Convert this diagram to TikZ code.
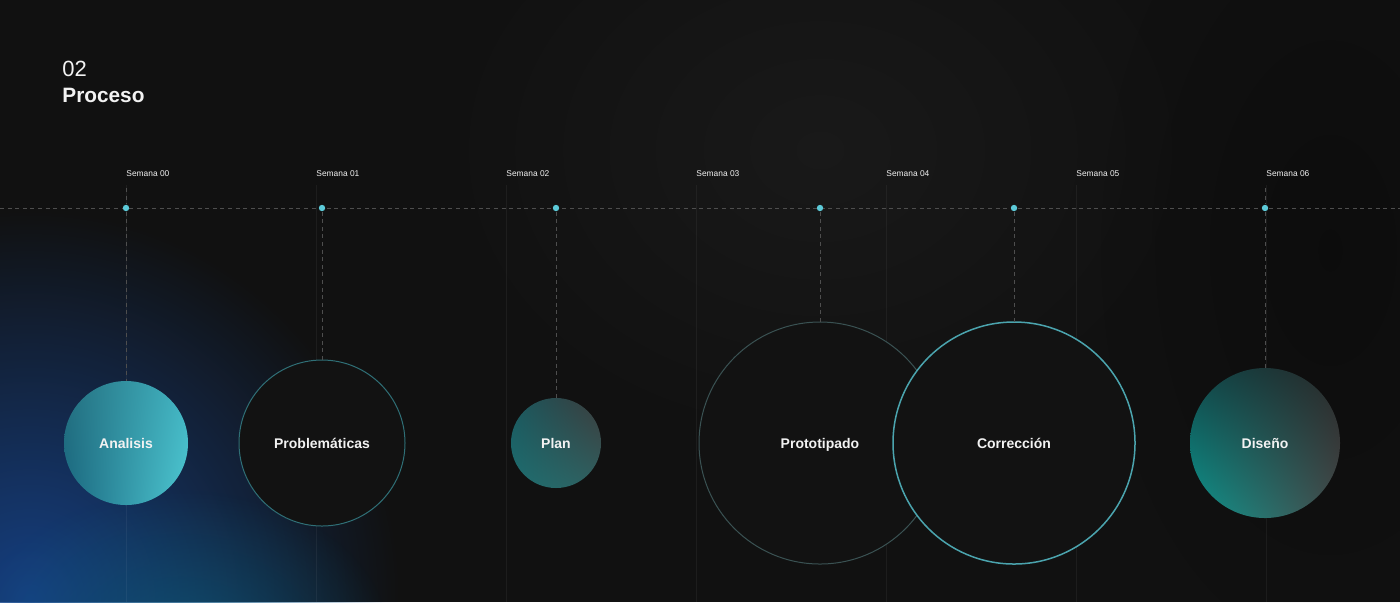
\documentclass[tikz,border=0pt]{standalone}
\usepackage{fontspec}
\setmainfont{Liberation Sans}
\usetikzlibrary{fadings,shadings}
\tikzfading[name=glowfade, inner color=transparent!0, outer color=transparent!100]
\definecolor{bg}{HTML}{111111}
\definecolor{glowblue}{HTML}{16458F}
\definecolor{glowteal}{HTML}{0E5A78}
\definecolor{dotc}{HTML}{5CCAD8}
\definecolor{dashc}{HTML}{4E4E4E}
\definecolor{txt}{HTML}{F2F2F2}
\definecolor{probc}{HTML}{2F6F76}
\definecolor{protoc}{HTML}{3A5253}
\definecolor{corrc}{HTML}{4BA4AE}
\definecolor{hollow}{HTML}{121212}
\definecolor{anaUL}{RGB}{36,112,128}
\definecolor{anaUR}{RGB}{66,180,194}
\definecolor{anaLL}{RGB}{26,104,128}
\definecolor{anaLR}{RGB}{78,200,210}
\definecolor{plaUL}{RGB}{26,88,94}
\definecolor{plaUR}{RGB}{60,60,60}
\definecolor{plaLL}{RGB}{30,110,112}
\definecolor{plaLR}{RGB}{48,96,96}
\definecolor{disUL}{RGB}{16,70,72}
\definecolor{disUR}{RGB}{40,40,40}
\definecolor{disLL}{RGB}{14,150,142}
\definecolor{disLR}{RGB}{70,74,74}
\tikzset{
  dotnode/.style={circle, fill=dotc, inner sep=0pt, minimum size=3.2pt},
  dashline/.style={draw=dashc, line width=0.5pt, dash pattern=on 2pt off 1.8pt},
  gridline/.style={draw=white, draw opacity=0.05, line width=0.5pt},
  weeklabel/.style={anchor=base west, text=txt, font=\fontsize{4.2}{5}\selectfont, inner sep=0pt},
  circlabel/.style={anchor=base, inner sep=0pt, yshift=-2.55pt, text=txt, font=\bfseries\fontsize{7}{9}\selectfont},
  bubble/.style={circle, inner sep=0pt, outer sep=0pt},
}
\begin{document}
\begin{tikzpicture}[x=0.5pt,y=-0.5pt]
\fill[bg] (0,0) rectangle (1400,602);
\useasboundingbox (0,0) rectangle (1400,602);
\begin{scope}
\clip (0,0) rectangle (1400,602);
% subtle background silhouettes
\fill[white, opacity=0.035, path fading=glowfade] (820,150) ellipse (420 and 330);
\fill[black, opacity=0.25, path fading=glowfade] (1330,250) ellipse (230 and 400);
% glows bottom-left
\fill[glowblue, opacity=0.9, path fading=glowfade] (30,600) ellipse (370 and 390);
\fill[glowteal, opacity=0.7, path fading=glowfade] (180,640) ellipse (210 and 150);
\end{scope}

% grid lines
\foreach \i in {0,...,6}{
  \coordinate (gt\i) at ({126+190*\i},185);
  \coordinate (gb\i) at ({126+190*\i},602);
  \draw[gridline] (gt\i) -- (gb\i);
}

% timeline
\coordinate (tl) at (0,208);
\coordinate (tr) at (1400,208);
\draw[dashline] (tl) -- (tr);

% week labels
\foreach \i in {0,...,6}{
  \node[weeklabel] (w\i) at ({126+190*\i},176.5) {Semana 0\i};
}

% title
\node[anchor=base west, inner sep=0pt, text=txt, font=\fontsize{11}{13}\selectfont] (num) at (62,76.5) {02};
\node[anchor=base west, inner sep=0pt, text=txt, font=\bfseries\fontsize{10.4}{12}\selectfont] (title) at (62,102.5) {Proceso};

% circles
\node[bubble, minimum size=62pt, upper left=anaUL, upper right=anaUR, lower left=anaLL, lower right=anaLR] (ana) at (126,443) {};
\node[bubble, minimum size=83pt, draw=probc, fill=hollow, line width=0.5pt] (prob) at (322,443) {};
\node[bubble, minimum size=45pt, upper left=plaUL, upper right=plaUR, lower left=plaLL, lower right=plaLR] (plan) at (556,443) {};
\node[bubble, minimum size=121pt, draw=protoc, fill=hollow, line width=0.5pt] (proto) at (820,443) {};
\node[bubble, minimum size=121pt, draw=corrc, fill=hollow, line width=0.75pt] (corr) at (1014,443) {};
\node[bubble, minimum size=75pt, upper left=disUL, upper right=disUR, lower left=disLL, lower right=disLR] (dis) at (1265,443) {};

% labels
\node[circlabel] (lana) at (ana.center) {Analisis};
\node[circlabel] (lprob) at (prob.center) {Problemáticas};
\node[circlabel] (lplan) at (plan.center) {Plan};
\node[circlabel] (lproto) at (proto.center) {Prototipado};
\node[circlabel] (lcorr) at (corr.center) {Corrección};
\node[circlabel] (ldis) at (dis.center) {Diseño};

% dots and connectors
\coordinate (a0) at (126,188);
\coordinate (a6) at (1265,188);
\node[dotnode] (d0) at (126,208) {};
\node[dotnode] (d1) at (322,208) {};
\node[dotnode] (d2) at (556,208) {};
\node[dotnode] (d3) at (820,208) {};
\node[dotnode] (d4) at (1014,208) {};
\node[dotnode] (d5) at (1265,208) {};
\draw[dashline] (a0) -- (d0);
\draw[dashline] (a6) -- (d5);
\draw[dashline] (d0) -- (ana.north);
\draw[dashline] (d1) -- (prob.north);
\draw[dashline] (d2) -- (plan.north);
\draw[dashline] (d3) -- (proto.north);
\draw[dashline] (d4) -- (corr.north);
\draw[dashline] (d5) -- (dis.north);
\end{tikzpicture}
\end{document}
